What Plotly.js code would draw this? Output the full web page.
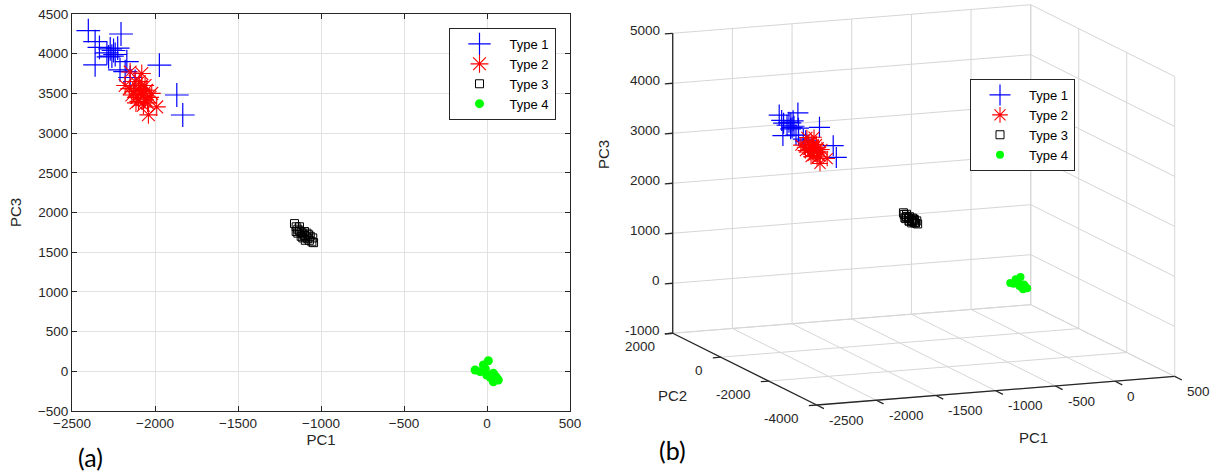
<!DOCTYPE html>
<html>
<head>
<meta charset="utf-8">
<script src="https://cdn.plot.ly/plotly-3.0.1.min.js"></script>
<style>html,body{margin:0;padding:0;background:#fff;}#chart{width:1217px;height:471px;}</style>
</head>
<body>
<div id="chart"></div>
<script>
// ---------------- Data ----------------
var seriesNames = ['Type 1', 'Type 2', 'Type 3', 'Type 4'];

var type1PC1 = [-2402, -2361, -2205, -2335, -2290, -2270, -2250, -2240, -2280, -2225, -2260, -2361, -2170, -2211, -2180, -1974, -1869, -1833, -2150, -2120];
var type1PC2 = [-1950, -1850, -1750, -1800, -1720, -1700, -1680, -1760, -1820, -1650, -1780, -1900, -1600, -1700, -1650, -1500, -1550, -1500, -1700, -1650];
var type1PC3 = [4290, 4151, 4248, 4080, 4010, 4060, 4040, 3990, 3960, 4070, 3970, 3860, 3900, 3795, 3773, 3857, 3480, 3228, 3700, 3650];

var type2PC1 = [-2080, -2150, -2180, -1990, -2040, -2120, -2100, -2090, -2070, -2060, -2110, -2130, -2080, -2050, -2100, -2070, -2140, -2060, -2030, -2085, -2115, -2045, -2095, -2155, -2020];
var type2PC2 = [-1800, -1850, -1750, -1900, -1850, -1780, -1820, -1800, -1760, -1840, -1790, -1810, -1770, -1830, -1860, -1880, -1740, -1800, -1820, -1790, -1850, -1870, -1760, -1780, -1830];
var type2PC3 = [3750, 3770, 3600, 3330, 3230, 3650, 3560, 3500, 3480, 3420, 3450, 3520, 3600, 3540, 3400, 3350, 3480, 3600, 3450, 3530, 3380, 3380, 3650, 3560, 3500];

var type3PC1 = [-1160, -1150, -1140, -1130, -1120, -1110, -1100, -1090, -1080, -1070, -1055, -1045, -1140, -1120, -1100, -1085, -1065, -1050, -1130, -1095, -1075, -1110, -1150];
var type3PC2 = [-950, -930, -970, -940, -960, -920, -980, -950, -940, -960, -930, -970, -950, -990, -910, -950, -940, -960, -930, -970, -950, -940, -960];
var type3PC3 = [1860, 1820, 1790, 1770, 1750, 1730, 1710, 1690, 1670, 1650, 1630, 1620, 1740, 1700, 1760, 1740, 1700, 1680, 1820, 1650, 1720, 1680, 1760];

var type4PC1 = [-72, 8, -22, 38, 68, 38, -2, -42, 20, 55, -10];
var type4PC2 = [10, -20, 30, -10, 0, 20, -30, 15, -5, 25, -15];
var type4PC3 = [17, 133, 79, -25, -110, -131, -47, -5, -80, -70, 30];

var pc1Ticks = [-2500, -2000, -1500, -1000, -500, 0, 500];
var pc3Ticks2D = [-500, 0, 500, 1000, 1500, 2000, 2500, 3000, 3500, 4000, 4500];
var pc2Ticks3D = [-4000, -2000, 0, 2000];
var pc3Ticks3D = [-1000, 0, 1000, 2000, 3000, 4000, 5000];

// ---------------- Styles ----------------
var FONT = 'Liberation Sans, Arial, Helvetica, sans-serif';
var AX = '#262626';
var GRID = '#e2e2e2';
var GRID3 = '#d6d6d6';
var W = 1217, H = 471;
var TICKFONT = 13.5;

var markerStyles = [
  {symbol:'cross-thin-open', size:17, color:'#0000ff', line:{color:'#0000ff', width:1.2}},
  {symbol:'asterisk-open', size:15, color:'#ff0000', line:{color:'#ff0000', width:1.1}},
  {symbol:'square-open', size:8, color:'#000000', line:{color:'#000000', width:1}},
  {symbol:'circle', size:9, color:'#00ff00', line:{width:0}}
];
var markerStyles3 = [
  {symbol:'cross-thin-open', size:15, color:'#0000ff', line:{color:'#0000ff', width:1.2}},
  {symbol:'asterisk-open', size:13, color:'#ff0000', line:{color:'#ff0000', width:1.1}},
  {symbol:'square-open', size:8, color:'#000000', line:{color:'#000000', width:1}},
  {symbol:'circle', size:8, color:'#00ff00', line:{width:0}}
];

// ---------------- 3-D view (orthographic projection onto pixel axes x2/y2) ----------------
var view = {az:21.8, el:11.5, lenX:385.6, lenY:387.7, lenZ:306.1, originX:816.7, originY:405};
var rng = {x:[-2500, 500], y:[-4000, 2000], z:[-1000, 5000]};
var d2r = Math.PI/180;
var ct = Math.cos(view.az*d2r), st = Math.sin(view.az*d2r), se = Math.sin(view.el*d2r), ce = Math.cos(view.el*d2r);
var EX = [view.lenX*ct, -view.lenX*st*se];
var EY = [-view.lenY*st, -view.lenY*ct*se];
var EZ = [0, -view.lenZ*ce];
function proj(a, b, c){
  var u = (a - rng.x[0])/(rng.x[1]-rng.x[0]);
  var v = (b - rng.y[0])/(rng.y[1]-rng.y[0]);
  var w = (c - rng.z[0])/(rng.z[1]-rng.z[0]);
  return [view.originX + u*EX[0] + v*EY[0] + w*EZ[0], view.originY + u*EX[1] + v*EY[1] + w*EZ[1]];
}
function projArrays(A, B, C){
  var xs = [], ys = [];
  for (var i=0;i<A.length;i++){ var p = proj(A[i], B[i], C[i]); xs.push(p[0]); ys.push(p[1]); }
  return {x:xs, y:ys};
}
function segs(list){
  var xs = [], ys = [];
  list.forEach(function(s){
    var p = proj(s[0][0], s[0][1], s[0][2]), q = proj(s[1][0], s[1][1], s[1][2]);
    xs.push(p[0], q[0], null); ys.push(p[1], q[1], null);
  });
  return {x:xs, y:ys};
}

var X0 = rng.x[0], X1 = rng.x[1], Y0 = rng.y[0], Y1 = rng.y[1], Z0 = rng.z[0], Z1 = rng.z[1];
var gridSegs = [];
pc1Ticks.forEach(function(t){ gridSegs.push([[t,Y1,Z0],[t,Y1,Z1]]); gridSegs.push([[t,Y0,Z0],[t,Y1,Z0]]); });
pc3Ticks3D.forEach(function(t){ gridSegs.push([[X0,Y1,t],[X1,Y1,t]]); gridSegs.push([[X1,Y0,t],[X1,Y1,t]]); });
pc2Ticks3D.forEach(function(t){ gridSegs.push([[X1,t,Z0],[X1,t,Z1]]); gridSegs.push([[X0,t,Z0],[X1,t,Z0]]); });
var gridXY = segs(gridSegs);

var axisXY = segs([[[X0,Y1,Z0],[X0,Y1,Z1]], [[X0,Y1,Z0],[X0,Y0,Z0]], [[X0,Y0,Z0],[X1,Y0,Z0]]]);

var tickX = 0.022*(X1-X0), tickY = 0.05*(Y1-Y0);
var tickSegs = [];
pc3Ticks3D.forEach(function(t){ tickSegs.push([[X0,Y1,t],[X0-tickX,Y1,t]]); });
pc2Ticks3D.forEach(function(t){ tickSegs.push([[X0,t,Z0],[X0-tickX,t,Z0]]); });
pc1Ticks.forEach(function(t){ tickSegs.push([[t,Y0,Z0],[t,Y0-tickY,Z0]]); });
var tickXY = segs(tickSegs);

var annotations = [];
function lab(text, p, xanchor, xshift, yshift){
  annotations.push({text:String(text), xref:'x2', yref:'y2', x:p[0], y:p[1], xanchor:xanchor, yanchor:'middle',
    xshift:xshift, yshift:yshift, showarrow:false, font:{family:FONT, size:TICKFONT, color:AX}});
}
pc3Ticks3D.forEach(function(t){ lab(t, proj(X0-tickX, Y1, t), 'right', -3, 3); });
pc2Ticks3D.forEach(function(t){ lab(t, proj(X0-tickX, t, Z0), 'right', -8, -12.5); });
pc1Ticks.forEach(function(t){ lab(t, proj(t, Y0-tickY, Z0), 'left', 3, -11.5); });

function paperText(text, px, py, size, family, angle){
  annotations.push({text:text, xref:'paper', yref:'paper', x:px/W, y:1-py/H, xanchor:'center', yanchor:'middle',
    showarrow:false, textangle:angle||0, font:{family:family, size:size, color:family===FONT?AX:'#000'}});
}
paperText('PC3', 604, 155, 15, FONT, -90);
paperText('PC2', 672, 395, 15, FONT, 0);
paperText('PC1', 1033, 437, 15, FONT, 0);
paperText('(a)', 90, 457, 25, 'Lato, Noto Sans, sans-serif', 0);
paperText('(b)', 672, 450, 25, 'Lato, Noto Sans, sans-serif', 0);

// ---------------- Traces ----------------
var traces = [];
var data2D = [[type1PC1,type1PC3],[type2PC1,type2PC3],[type3PC1,type3PC3],[type4PC1,type4PC3]];
data2D.forEach(function(d, i){
  traces.push({type:'scatter', mode:'markers', name:seriesNames[i], x:d[0], y:d[1], xaxis:'x', yaxis:'y',
    marker:markerStyles[i], legend:'legend', cliponaxis:true});
});
traces.push({type:'scatter', mode:'lines', x:gridXY.x, y:gridXY.y, xaxis:'x2', yaxis:'y2', showlegend:false,
  line:{color:GRID3, width:1}, hoverinfo:'skip'});
traces.push({type:'scatter', mode:'lines', x:axisXY.x, y:axisXY.y, xaxis:'x2', yaxis:'y2', showlegend:false,
  line:{color:AX, width:1.3}, hoverinfo:'skip'});
traces.push({type:'scatter', mode:'lines', x:tickXY.x, y:tickXY.y, xaxis:'x2', yaxis:'y2', showlegend:false,
  line:{color:AX, width:1.3}, hoverinfo:'skip'});
var data3D = [[type1PC1,type1PC2,type1PC3],[type2PC1,type2PC2,type2PC3],[type3PC1,type3PC2,type3PC3],[type4PC1,type4PC2,type4PC3]];
data3D.forEach(function(d, i){
  var p = projArrays(d[0], d[1], d[2]);
  traces.push({type:'scatter', mode:'markers', name:seriesNames[i], x:p.x, y:p.y, xaxis:'x2', yaxis:'y2',
    marker:markerStyles3[i], legend:'legend2', cliponaxis:false});
});

var x2Dom = [0.48, 1.0];
var layout = {
  width:W, height:H,
  margin:{l:0, r:0, t:0, b:0},
  paper_bgcolor:'#ffffff', plot_bgcolor:'rgba(0,0,0,0)',
  font:{family:FONT, size:12, color:AX},
  showlegend:true,
  xaxis:{
    domain:[0.0592, 0.4684], range:[-2500, 500], tickvals:pc1Ticks, autorange:false,
    ticks:'inside', ticklen:5, tickcolor:AX, mirror:'ticks', showline:true, linecolor:AX, linewidth:1,
    gridcolor:GRID, zeroline:false, tickfont:{size:TICKFONT, color:AX},
    title:{text:'PC1', font:{size:15, color:AX}, standoff:1}
  },
  yaxis:{
    domain:[0.1274, 0.9703], range:[-500, 4500], tickvals:pc3Ticks2D, autorange:false,
    ticks:'inside', ticklen:5, tickcolor:AX, mirror:'ticks', showline:true, linecolor:AX, linewidth:1,
    gridcolor:GRID, zeroline:false, tickfont:{size:TICKFONT, color:AX},
    title:{text:'PC3', font:{size:15, color:AX}, standoff:12}
  },
  xaxis2:{domain:x2Dom, range:[x2Dom[0]*W, x2Dom[1]*W], visible:false, autorange:false, fixedrange:true},
  yaxis2:{domain:[0,1], range:[H, 0], visible:false, autorange:false, anchor:'x2', fixedrange:true},
  legend:{x:448.5/W, y:1-28/H, xanchor:'left', yanchor:'top', bgcolor:'#ffffff', bordercolor:AX, borderwidth:1,
    font:{family:FONT, size:13, color:'#000'}, itemwidth:50},
  legend2:{x:970/W, y:1-79/H, xanchor:'left', yanchor:'top', bgcolor:'#ffffff', bordercolor:AX, borderwidth:1,
    font:{family:FONT, size:13, color:'#000'}, itemwidth:48},
  annotations:annotations
};

Plotly.newPlot('chart', traces, layout, {displayModeBar:false, staticPlot:true});
</script>
</body>
</html>
